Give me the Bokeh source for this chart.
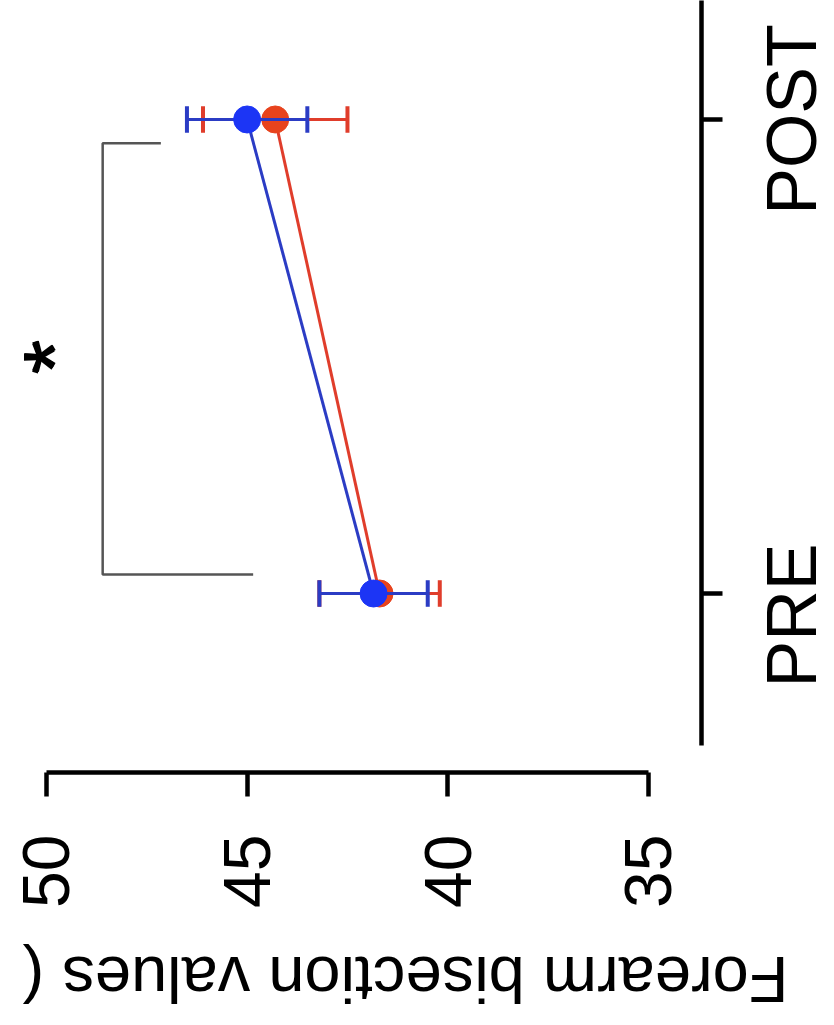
import math
from bokeh.plotting import figure
from bokeh.models import Range1d, FixedTicker, CustomJSTickFormatter
from bokeh.layouts import row, column
from bokeh.core.properties import value
from bokeh.embed import file_html
from bokeh.resources import INLINE

# ---- data ----
phases = ["PRE", "POST"]
phase_pos = [1, 2]
blue_mean = [41.85, 45.0]
blue_se = [1.35, 1.5]
red_mean = [41.7, 44.3]
red_se = [1.5, 1.8]
value_ticks = [35, 40, 45, 50]
axis_title = "Forearm bisection values ("
bracket_x = [47.15, 48.6, 48.6, 44.85]
bracket_y = [1.95, 1.95, 1.04, 1.04]
star_x = [50.4]
star_y = [1.5]
star_text = ["*"]

FONT = "Liberation Sans"
BLUE_PT = "#1c35f5"
BLUE_LN = "#2b3cc4"
RED_PT = "#e8431d"
RED_LN = "#e03d2b"

TOTAL_W, TOTAL_H = 834, 1025
MAIN_W, TOP_H = 741, 912
FRAME_R, FRAME_B = 701, 772
LINE_BOX_BELOW = 0.295  # part of Bokeh's text line box below the baseline (em)
Y_START, Y_END = 0.6224, 2.251
PX_PER_Y = FRAME_B / (Y_END - Y_START)


def clean(fig):
    fig.xgrid.visible = False
    fig.ygrid.visible = False
    fig.outline_line_color = None
    fig.background_fill_color = "white"
    fig.border_fill_color = "white"


# ---- main plot ----
p = figure(width=MAIN_W, height=TOP_H, output_backend="svg", toolbar_location=None,
           x_range=Range1d(51.146, 33.678), y_range=Range1d(Y_START, Y_END),
           x_axis_location="below", y_axis_location="right",
           min_border_left=0, min_border_top=0,
           min_border_right=MAIN_W - FRAME_R, min_border_bottom=TOP_H - FRAME_B)
clean(p)

xa = p.xaxis[0]
xa.ticker = FixedTicker(ticks=value_ticks)
xa.bounds = (min(value_ticks), max(value_ticks))
xa.axis_line_width = 4.5
xa.major_tick_line_width = 4.5
xa.major_tick_out = 24
xa.major_tick_in = 0
xa.minor_tick_out = 0
xa.minor_tick_in = 0
xa.major_label_orientation = math.pi / 2
xa.major_label_standoff = 38
xa.major_label_text_font_size = "66px"
xa.major_label_text_font = FONT
xa.major_label_text_color = "black"

ya = p.yaxis[0]
ya.ticker = FixedTicker(ticks=phase_pos)
ya.formatter = CustomJSTickFormatter(code="return '';")
ya.major_label_text_font_size = "1px"
ya.major_label_standoff = 0
ya.bounds = (0.68, Y_END)
ya.axis_line_width = 4.5
ya.major_tick_line_width = 4.5
ya.major_tick_out = 21
ya.major_tick_in = 0
ya.minor_tick_out = 0
ya.minor_tick_in = 0

# significance bracket
p.line(bracket_x, bracket_y, line_color="#555555", line_width=2.5)

CAP = 0.028


def series(mean, se, ln_col, pt_col):
    p.line(mean, phase_pos, line_color=ln_col, line_width=3)
    lo = [m - s for m, s in zip(mean, se)]
    hi = [m + s for m, s in zip(mean, se)]
    p.segment(x0=lo, y0=phase_pos, x1=hi, y1=phase_pos, line_color=ln_col, line_width=3)
    yb = [y - CAP for y in phase_pos]
    yt = [y + CAP for y in phase_pos]
    p.segment(x0=lo, y0=yb, x1=lo, y1=yt, line_color=ln_col, line_width=4)
    p.segment(x0=hi, y0=yb, x1=hi, y1=yt, line_color=ln_col, line_width=4)
    p.scatter(mean, phase_pos, size=27, fill_color=pt_col, line_color=pt_col)


series(red_mean, red_se, RED_LN, RED_PT)
series(blue_mean, blue_se, BLUE_LN, BLUE_PT)

# significance star (drawn with tiny shifts so that it looks bold)
for dx, dy in [(0, 0), (1.5, 0), (0, 1.5)]:
    p.text(x=star_x, y=star_y, text=star_text, angle=math.pi / 2,
           text_font=value(FONT), text_font_size="88px",
           text_align="center", text_baseline="middle",
           x_offset=23 + dx, y_offset=dy, text_color="black")

# ---- right strip with the category labels ----
SIDE_W = TOTAL_W - MAIN_W
CAT_FS = 70
CAT_BASELINE_X = 812
label_nudge_px = [22, 0]   # PRE sits a little below its tick in the reference
side = figure(width=SIDE_W, height=TOP_H, output_backend="svg", toolbar_location=None,
              x_range=Range1d(MAIN_W, TOTAL_W), y_range=p.y_range,
              x_axis_location=None, y_axis_location=None,
              min_border_left=0, min_border_right=0, min_border_top=0,
              min_border_bottom=TOP_H - FRAME_B)
clean(side)
cat_anchor = CAT_BASELINE_X - LINE_BOX_BELOW * CAT_FS
cat_y = [pos - nud / PX_PER_Y for pos, nud in zip(phase_pos, label_nudge_px)]
side.text(x=[cat_anchor] * len(phases), y=cat_y, text=phases, angle=math.pi / 2,
          text_align="center", text_baseline="alphabetic",
          text_font=value(FONT), text_font_size=f"{CAT_FS}px", text_color="black")

# ---- bottom strip with the (upside-down) value-axis title ----
TITLE_FS = 65
TITLE_RIGHT, TITLE_BASELINE_Y = 788, 960
bottom = figure(width=TOTAL_W, height=TOTAL_H - TOP_H, output_backend="svg", toolbar_location=None,
                x_range=Range1d(0, TOTAL_W), y_range=Range1d(TOTAL_H, TOP_H),
                x_axis_location=None, y_axis_location=None,
                min_border_left=0, min_border_right=0, min_border_top=0, min_border_bottom=0)
clean(bottom)
bottom.text(x=[TITLE_RIGHT], y=[TITLE_BASELINE_Y + LINE_BOX_BELOW * TITLE_FS],
            text=[axis_title], angle=math.pi,
            text_align="left", text_baseline="alphabetic",
            text_font=value(FONT), text_font_size=f"{TITLE_FS}px", text_color="black")

layout = column(row(p, side), bottom)
open("out.html", "w").write(file_html(layout, INLINE))
